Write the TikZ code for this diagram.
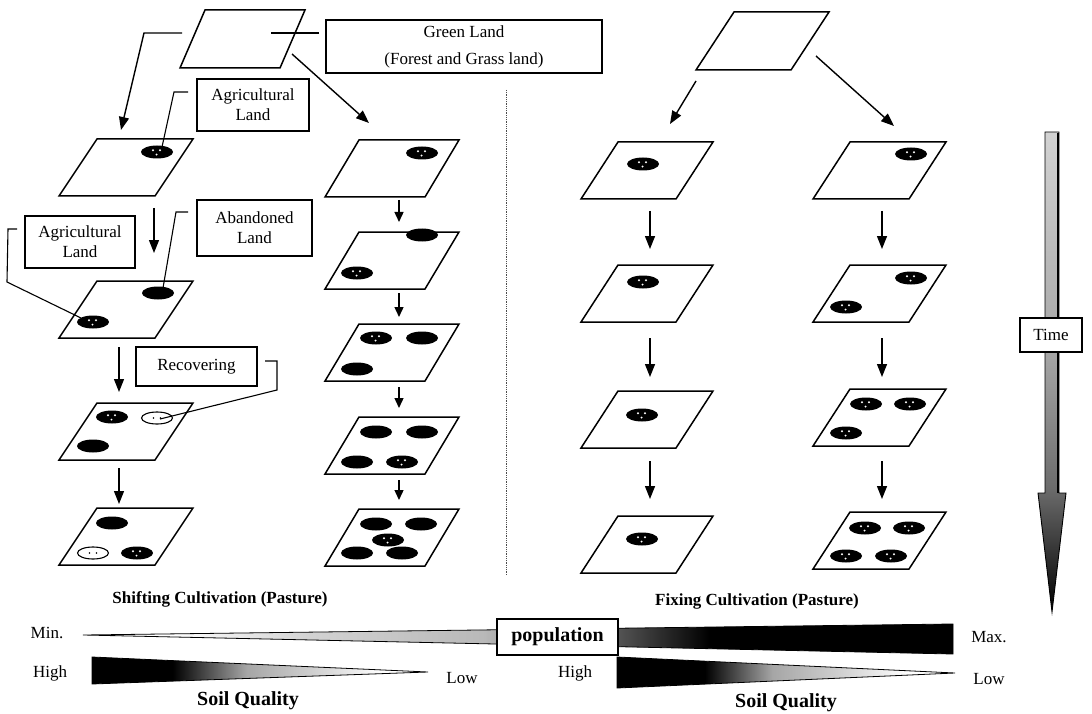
\documentclass[tikz,border=0pt]{standalone}
\usepackage{fontspec}
\setmainfont{Liberation Serif}
\usetikzlibrary{arrows.meta}
\pgfdeclarehorizontalshading{popshade}{100bp}{color(0bp)=(white); color(30bp)=(white); color(38bp)=(gray!35); color(48bp)=(gray!55); color(55bp)=(gray!75!black); color(61bp)=(black); color(100bp)=(black)}
\pgfdeclarehorizontalshading{soilL}{100bp}{color(0bp)=(black); color(37bp)=(black); color(48bp)=(gray!70); color(60bp)=(gray!30); color(68bp)=(white); color(100bp)=(white)}
\pgfdeclarehorizontalshading{soilR}{100bp}{color(0bp)=(black); color(38bp)=(black); color(48bp)=(gray!70); color(60bp)=(gray!30); color(68bp)=(white); color(100bp)=(white)}
\pgfdeclareverticalshading{timeshade}{100bp}{color(0bp)=(black); color(25bp)=(black); color(38bp)=(gray!85!black); color(52bp)=(gray!70); color(75bp)=(gray!35); color(100bp)=(gray!35)}
\newcommand\landp[5]{\draw[land] (#1,#2) -- ++(#3,0) -- ++(-#4,#5) -- ++(-#3,0) -- cycle;}
\begin{document}
\begin{tikzpicture}[x=1pt,y=-1pt,
  land/.style={line width=1.5pt, line join=miter},
  arr/.style={line width=1.4pt, -{Triangle[length=13pt,width=10pt]}},
  sarr/.style={line width=1.4pt, -{Triangle[length=10pt,width=9pt]}},
  callout/.style={line width=1.1pt},
  lbl/.style={draw, line width=1.1pt, fill=white, inner sep=0pt, align=center, font=\fontsize{17}{20}\selectfont},
  txt/.style={inner sep=0pt, font=\fontsize{17}{20}\selectfont},
  btxt/.style={inner sep=0pt, font=\fontsize{17}{20}\selectfont\bfseries},
  spot/.pic={\fill (0,0) ellipse [x radius=16pt, y radius=6.5pt];},
  dspot/.pic={\fill (0,0) ellipse [x radius=16pt, y radius=6.5pt];
    \fill[white] (-4,-1.8) circle[radius=1.1pt] (3,-1.8) circle[radius=1.1pt] (-0.5,2.6) circle[radius=1.1pt];},
  ospot/.pic={\draw[line width=1.1pt, fill=white] (0,0) ellipse [x radius=15.5pt, y radius=6pt];
    \fill (-3.5,0) circle[radius=0.9pt] (3.5,0) circle[radius=0.9pt];}
]
\useasboundingbox (0,0) rectangle (1092,714);

% ---------- land plots ----------
\landp{205}{10}{100}{25}{58}
\landp{97}{139}{96}{38}{57}
\landp{97}{281}{96}{38}{57}
\landp{97}{403}{96}{38}{57}
\landp{97}{508}{96}{38}{57}
\landp{359}{140}{100}{34}{57}
\landp{359}{232}{100}{34}{57}
\landp{359}{324}{100}{34}{57}
\landp{359}{417}{100}{34}{57}
\landp{359}{509}{100}{34}{57}
\landp{734}{12}{95}{38}{58}
\landp{618}{142}{95}{37}{57}
\landp{618}{265}{95}{37}{57}
\landp{618}{391}{95}{37}{57}
\landp{618}{516}{95}{37}{57}
\landp{850}{142}{96}{37}{57}
\landp{850}{265}{96}{37}{57}
\landp{850}{389}{96}{37}{57}
\landp{850}{512}{96}{37}{57}

% ---------- fields ----------
% column 1
\pic at (157,152) {dspot};
\pic at (158,293) {spot};
\pic at (93,322) {dspot};
\pic at (112,417) {dspot};
\pic at (157,418) {ospot};
\pic at (93,446) {spot};
\pic at (112,523) {spot};
\pic at (93,553) {ospot};
\pic at (137,553) {dspot};
% column 2
\pic at (422,153) {dspot};
\pic at (422,235) {spot};
\pic at (357,273) {dspot};
\pic at (376,338) {dspot};
\pic at (422,338) {spot};
\pic at (357,369) {spot};
\pic at (376,432) {spot};
\pic at (422,432) {spot};
\pic at (357,462) {spot};
\pic at (402,462) {dspot};
\pic at (376,524) {spot};
\pic at (421,524) {spot};
\pic at (388,540) {dspot};
\pic at (357,553) {spot};
\pic at (402,553) {spot};
% column 3
\pic at (643,164) {dspot};
\pic at (643,282) {dspot};
\pic at (642,415) {dspot};
\pic at (642,539) {dspot};
% column 4
\pic at (911,154) {dspot};
\pic at (911,278) {dspot};
\pic at (846,307) {dspot};
\pic at (866,404) {dspot};
\pic at (910,404) {dspot};
\pic at (846,433) {dspot};
\pic at (865,528) {dspot};
\pic at (909,528) {dspot};
\pic at (846,556) {dspot};
\pic at (891,556) {dspot};

% ---------- coordinates ----------
\coordinate (a1s) at (182,33); \coordinate (a1k) at (144,33); \coordinate (a1e) at (121,130);
\coordinate (a2s) at (292,54); \coordinate (a2e) at (369,123);
\coordinate (a3s) at (696,81); \coordinate (a3e) at (670,124);
\coordinate (a4s) at (816,56); \coordinate (a4e) at (894,126);

% ---------- arrows ----------
\draw[arr] (a1s) -- (a1k) -- (a1e);
\draw[arr] (a2s) -- (a2e);
\draw[arr] (a3s) -- (a3e);
\draw[arr] (a4s) -- (a4e);
\coordinate (c1a) at (154,208); \coordinate (c1b) at (154,253);
\coordinate (c1c) at (119,347); \coordinate (c1d) at (119,392);
\coordinate (c1e) at (119,468); \coordinate (c1f) at (119,504);
\draw[arr] (c1a) -- (c1b);
\draw[arr] (c1c) -- (c1d);
\draw[arr] (c1e) -- (c1f);
\foreach \i/\s/\e in {1/200/222,2/293/317,3/387/408,4/480/500}{
  \coordinate (c2s\i) at (399,\s); \coordinate (c2e\i) at (399,\e);
  \draw[sarr] (c2s\i) -- (c2e\i);}
\foreach \i/\s/\e in {1/211/249,2/338/377,3/461/499}{
  \coordinate (c3s\i) at (650,\s); \coordinate (c3e\i) at (650,\e);
  \draw[arr] (c3s\i) -- (c3e\i);
  \coordinate (c4s\i) at (882,\s); \coordinate (c4e\i) at (882,\e);
  \draw[arr] (c4s\i) -- (c4e\i);}

% ---------- labels and callouts ----------
\node[lbl, minimum width=276pt, minimum height=53pt] (gl) at (464,46.5) {Green Land\\[7pt](Forest and Grass land)};
\coordinate (glc) at (319,33); \coordinate (gle) at (271,33);
\draw[callout] (glc) -- (gle);

\node[lbl, minimum width=112pt, minimum height=52pt] (ag1) at (253,105) {Agricultural\\Land};
\coordinate (ag1s) at (188,92); \coordinate (ag1k) at (174,92); \coordinate (ag1e) at (162,147);
\draw[callout] (ag1s) -- (ag1k) -- (ag1e);

\node[lbl, minimum width=115pt, minimum height=56pt] (ab) at (254.5,228) {Abandoned\\Land};
\coordinate (abs) at (188,212); \coordinate (abk) at (176,212); \coordinate (abe) at (163,288);
\draw[callout] (abs) -- (abk) -- (abe);

\node[lbl, minimum width=110pt, minimum height=52pt] (ag2) at (80,242) {Agricultural\\Land};
\coordinate (ag2s) at (17,229); \coordinate (ag2k) at (8,229); \coordinate (ag2m) at (7,282); \coordinate (ag2e) at (81,318);
\draw[callout] (ag2s) -- (ag2k) -- (ag2m) -- (ag2e);

\node[lbl, minimum width=121pt, minimum height=39pt] (rec) at (196.5,366.5) {Recovering};
\coordinate (recs) at (265,361); \coordinate (reck) at (277,361); \coordinate (recm) at (277,390); \coordinate (rece) at (160,419);
\draw[callout] (recs) -- (reck) -- (recm) -- (rece);

% ---------- divider ----------
\coordinate (dv1) at (506,90); \coordinate (dv2) at (506,575);
\draw[densely dotted, line width=0.8pt, gray!60!black] (dv1) -- (dv2);

% ---------- titles ----------
\node[btxt] (t1) at (220,599) {Shifting Cultivation (Pasture)};
\node[btxt] (t2) at (757,601) {Fixing Cultivation (Pasture)};

% ---------- time arrow ----------
\shadedraw[shading=timeshade, line width=0.9pt] (1045,132) -- (1059,132) -- (1059,493) -- (1066,493) -- (1052,612) -- (1038,493) -- (1045,493) -- cycle;
\draw[line width=2pt] (1058,133) -- (1058,493);
\node[lbl, minimum width=62pt, minimum height=34pt] (time) at (1051,335) {Time};

% ---------- population / soil quality ----------
\shadedraw[shading=popshade, line width=0.8pt] (83,635) -- (953,624) -- (953,654) -- cycle;
\node[lbl, minimum width=121pt, minimum height=36pt, font=\fontsize{20}{22}\selectfont\bfseries] (pop) at (557.5,637) {population};
\node[txt] (min) at (47,633) {Min.};
\node[txt] (max) at (989,637) {Max.};

\shadedraw[shading=soilL, line width=0.8pt] (92,657) -- (428,672) -- (92,684) -- cycle;
\node[txt] (hi1) at (50,673) {High};
\node[txt] (lo1) at (462,678) {Low};
\node[inner sep=0pt, font=\fontsize{20}{22}\selectfont\bfseries] (sq1) at (248,701) {Soil Quality};

\shadedraw[shading=soilR, line width=0.8pt] (617,657) -- (955,673) -- (617,688) -- cycle;
\node[txt] (hi2) at (575,673) {High};
\node[txt] (lo2) at (989,679) {Low};
\node[inner sep=0pt, font=\fontsize{20}{22}\selectfont\bfseries] (sq2) at (786,703) {Soil Quality};
\end{tikzpicture}
\end{document}
